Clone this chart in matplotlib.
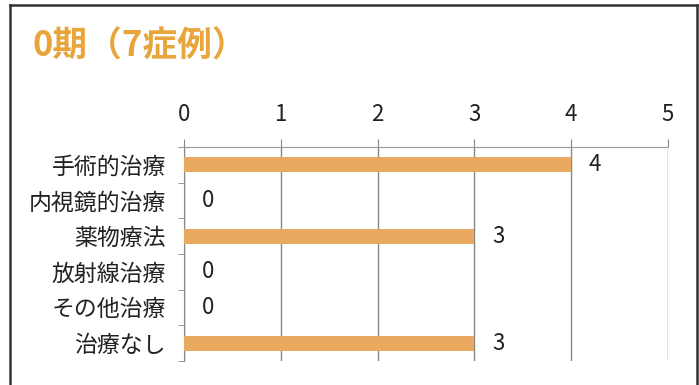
import matplotlib
matplotlib.use('Agg')
import matplotlib.pyplot as plt
from matplotlib.lines import Line2D

plt.rcParams['font.family'] = ['Noto Sans CJK JP', 'DejaVu Sans']

# データ
title = '0期（7症例）'
categories = ['手術的治療', '内視鏡的治療', '薬物療法', '放射線治療', 'その他治療', '治療なし']
values = [4, 0, 3, 0, 0, 3]
xticks = [0, 1, 2, 3, 4, 5]

bar_color = '#E9A95E'
title_color = '#E8A53C'

W, H = 699, 385
fig = plt.figure(figsize=(W / 100, H / 100), dpi=100)
ax = fig.add_axes([184 / W, 1 - 361 / H, (668 - 184) / W, (361 - 147) / H])

y = list(range(len(categories)))
ax.barh(y, values, height=0.42, color=bar_color, zorder=3)

# 値ラベル
for yi, v in zip(y, values):
    ax.text(v + 0.18, yi, str(v), va='center', ha='left', fontsize=16, color='#222222')

ax.set_xlim(0, 5)
ax.set_ylim(len(categories) - 0.5, -0.5)
ax.set_xticks(xticks)
ax.xaxis.tick_top()
ax.tick_params(axis='x', length=6, color='#888888', labelsize=16, pad=9, labelcolor='#222222')
ax.set_yticks(y)
ax.set_yticklabels(categories, fontsize=16.5, color='#222222')
ax.tick_params(axis='y', length=0, pad=13)
# カテゴリ境界の目盛り
ax.set_yticks([i - 0.5 for i in range(len(categories) + 1)], minor=True)
ax.tick_params(axis='y', which='minor', length=4, color='#888888')

ax.grid(axis='x', color='#888888', linewidth=1, zorder=0)
for s in ['right', 'bottom']:
    ax.spines[s].set_visible(False)
ax.spines['top'].set_color('#999999')
ax.spines['top'].set_linestyle((0, (1, 1)))
ax.spines['left'].set_color('#888888')

fig.text(33 / W, 1 - 46 / H, title, fontsize=25, fontweight='bold', color=title_color,
         va='center', ha='left')

# 外枠
fig.add_artist(Line2D([10 / W, 10 / W], [0, 1 - 5 / H], color='#333333', lw=1.8))
fig.add_artist(Line2D([10 / W, 697 / W], [1 - 5 / H, 1 - 5 / H], color='#333333', lw=1.8))
fig.add_artist(Line2D([697 / W, 697 / W], [0, 1 - 5 / H], color='#333333', lw=1.8))

fig.savefig('out.png', dpi=100)
